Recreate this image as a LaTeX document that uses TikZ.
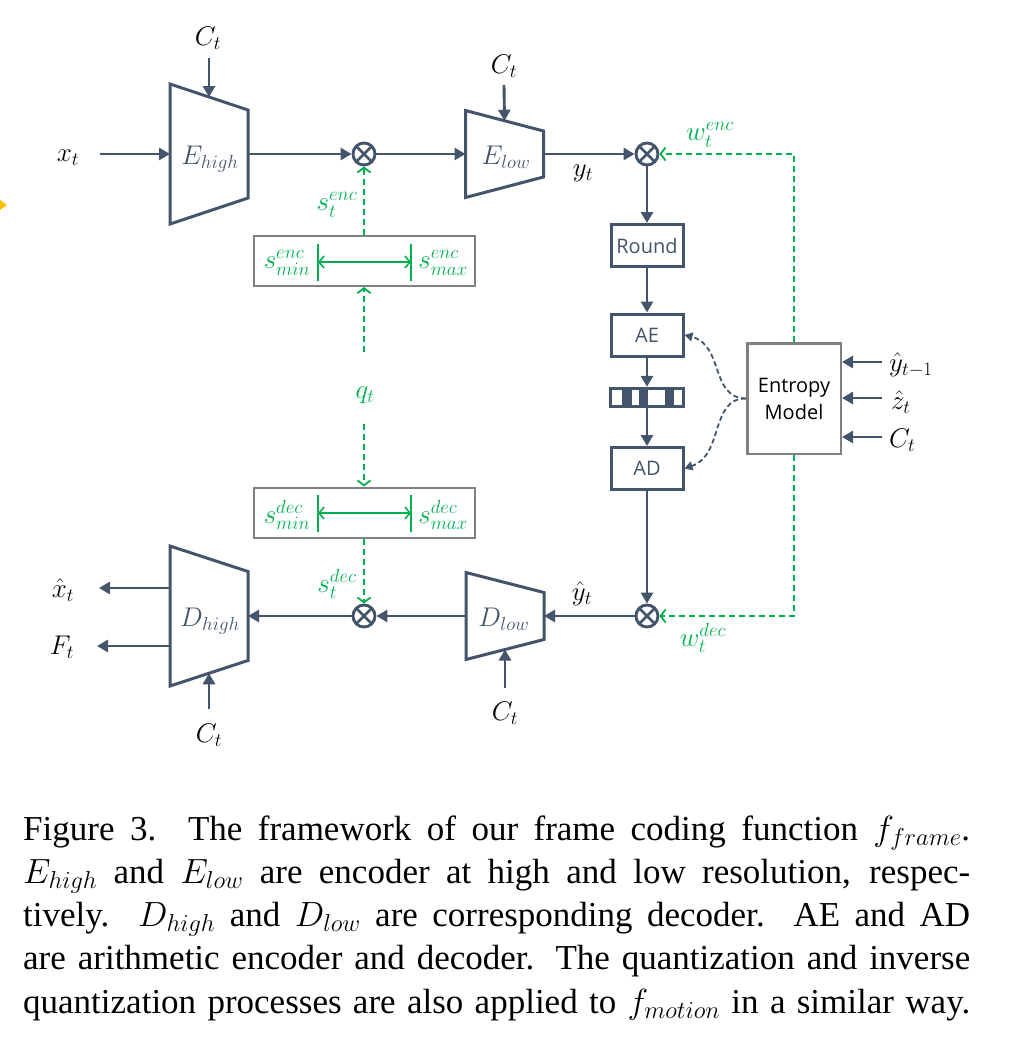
\RequirePackage{fix-cm}
\documentclass[tikz,border=0pt]{standalone}
\usepackage{fontspec}
\setmainfont{Liberation Serif}
\newfontfamily\boxfont{Open Sans}
\usetikzlibrary{arrows.meta}

\definecolor{slate}{HTML}{44546A}
\definecolor{leaf}{HTML}{00B050}
\definecolor{boxgrey}{HTML}{808080}
\definecolor{amber}{HTML}{FFC000}

\tikzset{
  flow/.style={slate, line width=2.9pt, -{Triangle[length=11pt,width=12pt]}},
  trap/.style={slate, line width=3pt, line join=miter},
  feed/.style={leaf, line width=1.8pt, dash pattern=on 6pt off 4pt, -{Straight Barb[length=5pt,width=13pt]}},
  hint/.style={slate, line width=1.8pt, dash pattern=on 5pt off 3pt, -{Triangle[length=8pt,width=9pt]}},
  spanline/.style={leaf, line width=1.6pt, {Straight Barb[length=5pt,width=12pt]}-{Straight Barb[length=5pt,width=12pt]}},
  limitbar/.style={leaf, line width=2pt},
  lbl/.style={font=\fontsize{27}{30}\selectfont},
  glbl/.style={lbl, text=leaf},
  mul/.style={circle, draw=slate, line width=2.9pt, minimum size=22pt,
    path picture={\draw[slate, line width=2.6pt]
      ([shift={(-7,-7)}]path picture bounding box.center) -- ([shift={(7,7)}]path picture bounding box.center)
      ([shift={(-7,7)}]path picture bounding box.center) -- ([shift={(7,-7)}]path picture bounding box.center);}},
  stage/.style={draw=slate, line width=3pt, minimum width=72pt, minimum height=42pt, text=slate,
    font=\boxfont\fontsize{20}{24}\selectfont},
  limitbox/.style={draw=boxgrey, line width=2pt, minimum width=221pt, minimum height=50pt}
}

\newcommand{\trapez}[5]{%
  \draw[trap] (#2-39,#3-#4) -- (#2+39,#3-#5) -- (#2+39,#3+#5) -- (#2-39,#3+#4) -- cycle;
  \coordinate (#1-w) at (#2-39,#3);
  \coordinate (#1-e) at (#2+39,#3);
  \coordinate (#1-n) at (#2,#3-#4/2-#5/2);
  \coordinate (#1-s) at (#2,#3+#4/2+#5/2);
}

\begin{document}
\begin{tikzpicture}[x=1pt,y=-1pt]
	\tikzstyle{every node}+=[inner sep=0pt]
	\useasboundingbox (0,0) rectangle (1027,1044);
	\fill [amber] (0,200) -- (7,205) -- (0,210) -- cycle;

	\trapez{ehigh}{209}{154}{70}{44}
	\trapez{elow}{504.5}{154}{43.5}{23}
	\trapez{dhigh}{209}{616}{70}{44.5}
	\trapez{dlow}{505}{616}{43.5}{23.5}
	\node [lbl, text=slate] (ehigh) at (210,159) {$E_{high}$};
	\node [lbl, text=slate] (elow) at (506,157) {$E_{low}$};
	\node [lbl, text=slate] (dhigh) at (210,621) {$D_{high}$};
	\node [lbl, text=slate] (dlow) at (504,619) {$D_{low}$};

	\node [mul] (mul1) at (364,154) {};
	\node [mul] (mul2) at (647,154) {};
	\node [mul] (mul3) at (647,616) {};
	\node [mul] (mul4) at (364,616) {};

	\node [stage] (round) at (647,245.5) {Round};
	\node [stage] (ae) at (647,335) {AE};
	\fill [slate] (622,387) rectangle (632,408);
	\fill [slate] (639,387) rectangle (648,408);
	\fill [slate] (665,387) rectangle (674,408);
	\node [draw=slate, line width=2.8pt, minimum width=72.5pt, minimum height=18.5pt] (bits) at (647,397.5) {};
	\node [stage] (ad) at (647,468.5) {AD};
	\node [draw=boxgrey, line width=2.5pt, minimum width=93.5pt, minimum height=110.5pt, align=center,
		font=\boxfont\fontsize{20}{27}\selectfont] (entropy) at (794,398.5) {Entropy\\Model};

	\node [limitbox] (senc) at (364,261) {};
	\node [limitbox] (sdec) at (364,512.5) {};
	\draw [limitbar] (318,244) -- (318,281);
	\draw [limitbar] (411,244) -- (411,281);
	\draw [limitbar] (318,495) -- (318,532);
	\draw [limitbar] (411,495) -- (411,532);
	\coordinate (encL) at (318,262);
	\coordinate (encR) at (411,262);
	\coordinate (decL) at (318,513);
	\coordinate (decR) at (411,513);
	\draw [spanline] (encL) -- (encR);
	\draw [spanline] (decL) -- (decR);
	\node [glbl] (sminenc) at (287,263) {$s_{min}^{enc}$};
	\node [glbl] (smaxenc) at (443,263) {$s_{max}^{enc}$};
	\node [glbl] (smindec) at (287,515) {$s_{min}^{dec}$};
	\node [glbl] (smaxdec) at (443,515) {$s_{max}^{dec}$};

	\node [lbl] (xt) at (68,158) {$x_t$};
	\node [lbl] (ct1) at (208,38) {$C_t$};
	\node [lbl] (ct2) at (504,66) {$C_t$};
	\node [lbl] (yt) at (583,173) {$y_t$};
	\node [lbl] (yhat) at (582,594) {$\hat{y}_t$};
	\node [lbl] (ct3) at (505,713) {$C_t$};
	\node [lbl] (ct4) at (209,735) {$C_t$};
	\node [lbl] (xhat) at (63,590) {$\hat{x}_t$};
	\node [lbl] (ft) at (62,647) {$F_t$};
	\node [lbl, anchor=west] (yprev) at (889,365) {$\hat{y}_{t-1}$};
	\node [lbl, anchor=west] (zhat) at (891,402) {$\hat{z}_t$};
	\node [lbl, anchor=west] (ct5) at (889,440) {$C_t$};
	\node [glbl] (stenc) at (337,205) {$s_t^{enc}$};
	\node [glbl] (stdec) at (337,584) {$s_t^{dec}$};
	\node [glbl] (wenc) at (710,135) {$w_t^{enc}$};
	\node [glbl] (wdec) at (703,638) {$w_t^{dec}$};
	\node [glbl] (qt) at (365,395) {$q_t$};

	\coordinate (xtin) at (100,154);
	\coordinate (ct1in) at (209,58);
	\coordinate (ct2in) at (504,85);
	\coordinate (ct3in) at (505,688);
	\coordinate (ct4in) at (209,709);
	\coordinate (xhatout) at (99,588);
	\coordinate (ftout) at (97,646);
	\coordinate (dhigh-w1) at (170,588);
	\coordinate (dhigh-w2) at (170,646);
	\coordinate (yprevin) at (882,362);
	\coordinate (zhatin) at (882,398);
	\coordinate (ct5in) at (882,437);
	\coordinate (qtup) at (364,352);
	\coordinate (qtdown) at (364,424);

	\draw [flow] (xtin) -- (ehigh-w);
	\draw [flow] (ct1in) -- (ehigh-n);
	\draw [flow] (ehigh-e) -- (mul1);
	\draw [flow] (mul1) -- (elow-w);
	\draw [flow] (ct2in) -- (elow-n);
	\draw [flow] (elow-e) -- (mul2);
	\draw [flow] (mul2) -- (round);
	\draw [flow] (round) -- (ae);
	\draw [flow] (ae) -- (bits);
	\draw [flow] (bits) -- (ad);
	\draw [flow] (ad) -- (mul3);
	\draw [flow] (mul3) -- (dlow-e);
	\draw [flow] (ct3in) -- (dlow-s);
	\draw [flow] (dlow-w) -- (mul4);
	\draw [flow] (mul4) -- (dhigh-e);
	\draw [flow] (ct4in) -- (dhigh-s);
	\draw [flow] (dhigh-w1) -- (xhatout);
	\draw [flow] (dhigh-w2) -- (ftout);
	\draw [flow] (yprevin) -- (yprevin -| entropy.east);
	\draw [flow] (zhatin) -- (zhatin -| entropy.east);
	\draw [flow] (ct5in) -- (ct5in -| entropy.east);

	\draw [feed] (entropy.north) -- (entropy.north |- mul2) -- (mul2.east);
	\draw [feed] (entropy.south) -- (entropy.south |- mul3) -- (mul3.east);
	\draw [feed] (senc.north) -- (mul1.south);
	\draw [feed] (qtup) -- (senc.south);
	\draw [feed] (qtdown) -- (sdec.north);
	\draw [feed] (sdec.south) -- (mul4.north);

	\draw [hint] (entropy.west) .. controls (710,398) and (724,345) .. (ae.east);
	\draw [hint] (entropy.west) .. controls (710,398) and (724,455) .. (ad.east);

	\node [anchor=base west] (caption) at (23,840) {\parbox[t]{947pt}{\fontsize{35}{43.3}\selectfont\parfillskip=0pt
		Figure 3.  The framework of our frame coding function $f_{frame}$.\linebreak
		$E_{high}$ and $E_{low}$ are encoder at high and low resolution, respec-\linebreak
		tively.  $D_{high}$ and $D_{low}$ are corresponding decoder.  AE and AD\linebreak
		are arithmetic encoder and decoder.  The quantization and inverse\linebreak
		quantization processes are also applied to $f_{motion}$ in a similar way.\par}};
\end{tikzpicture}
\end{document}
